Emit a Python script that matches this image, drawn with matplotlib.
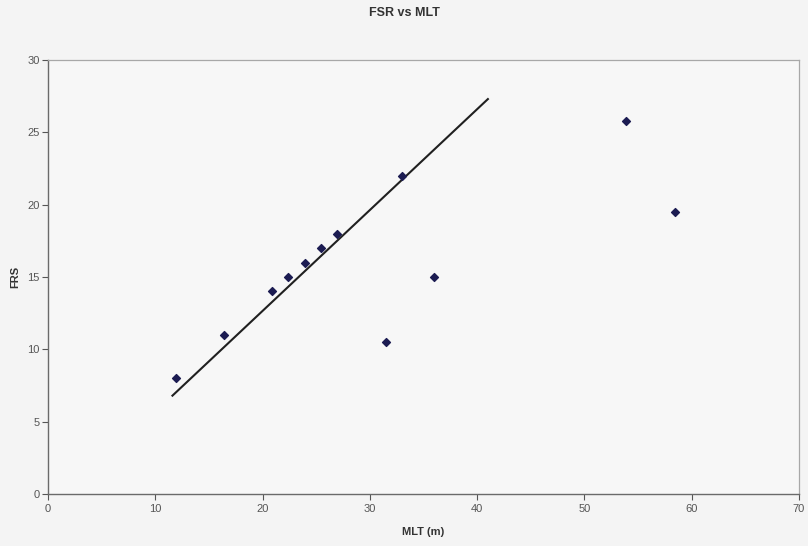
import matplotlib
matplotlib.use("Agg")
import matplotlib.pyplot as plt

# scatter data
mlt = [11.9, 16.4, 20.9, 22.4, 24.0, 25.4, 26.9, 33.0, 31.5, 36.0, 53.9, 58.4]
frs = [8.0, 11.0, 14.0, 15.0, 16.0, 17.0, 18.0, 22.0, 10.5, 15.0, 25.8, 19.5]

# trend line end points
line_x = [11.6, 41.0]
line_y = [6.8, 27.3]

xticks = [0, 10, 20, 30, 40, 50, 60, 70]
yticks = [0, 5, 10, 15, 20, 25, 30]

plt.rcParams['font.family'] = ['Liberation Sans', 'DejaVu Sans']

fig = plt.figure(figsize=(8.08, 5.46), dpi=100, facecolor='#f4f4f4')
ax = fig.add_axes([0.0594, 0.0952, 0.9295, 0.7949])
ax.set_facecolor('#f7f7f7')

ax.plot(line_x, line_y, color='#202020', lw=1.5)
ax.scatter(mlt, frs, marker='D', s=16, color='#1c1c52', zorder=3)

ax.set_xlim(0, 70)
ax.set_ylim(0, 30)
ax.set_xticks(xticks)
ax.set_yticks(yticks)
ax.tick_params(labelsize=8, colors='#555555', length=4, width=0.8, direction='out')
ax.tick_params(axis='y', pad=2)

for side in ['top', 'right']:
    ax.spines[side].set_color('#a8a8a8')
    ax.spines[side].set_linewidth(0.9)
for side in ['left', 'bottom']:
    ax.spines[side].set_color('#6a6a6a')
    ax.spines[side].set_linewidth(1.0)

ax.set_xlabel('MLT (m)', fontsize=8, fontweight='bold', color='#333333', labelpad=9)
ax.set_ylabel('FRS', fontsize=8, fontweight='bold', color='#333333', labelpad=5)
fig.text(0.5, 0.976, 'FSR vs MLT', ha='center', va='center', fontsize=9,
         fontweight='bold', color='#333333')

fig.savefig('out.png', dpi=100, facecolor=fig.get_facecolor())
